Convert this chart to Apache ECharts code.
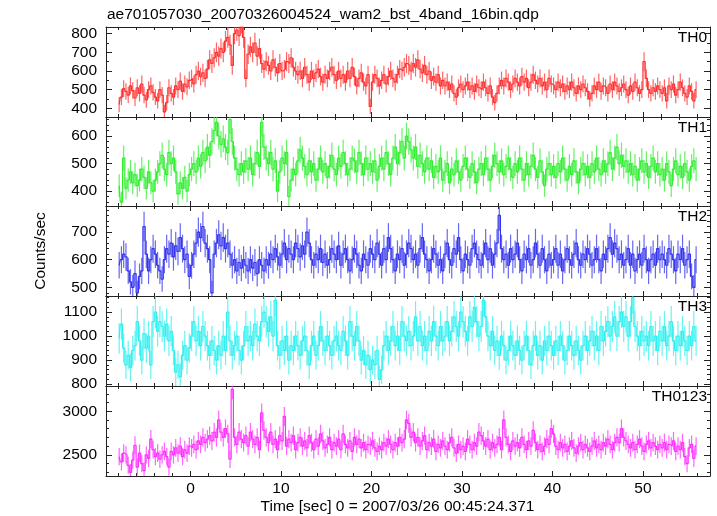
<!DOCTYPE html>
<html><head><meta charset="utf-8">
<script src="https://cdn.jsdelivr.net/npm/echarts@6/dist/echarts.min.js"></script>
<style>html,body{margin:0;padding:0;background:#fff}#c{width:717px;height:516px}</style>
</head><body><div id="c"></div>
<script>
// ---- data (16 bins per row = 4 s per row, 0.25 s bins starting at -8 s) ----
const binStart = -8;
const binWidth = 0.25;

const th0 = [
420,460,505,490,470,520,495,455,510,480,530,470,445,500,520,485,
460,440,500,470,380,430,510,480,460,520,500,545,490,530,515,550,
560,530,580,600,570,590,560,610,660,640,670,700,680,720,700,760,
780,740,630,800,820,790,860,780,560,690,730,700,750,680,720,640,
610,650,630,600,660,620,590,640,600,610,650,640,670,620,600,580,
600,560,620,580,540,600,560,590,610,570,540,580,560,600,620,580,
550,600,560,580,540,600,560,620,570,520,560,590,540,520,580,410,
540,580,560,520,550,580,530,570,600,560,540,580,610,600,620,640,
630,600,640,620,660,610,590,630,580,600,550,570,540,580,520,550,
520,540,500,530,480,460,510,530,500,520,540,500,520,490,530,510,
500,540,510,480,520,460,430,480,520,550,520,560,540,500,530,560,
540,520,570,540,560,510,540,580,550,530,560,520,540,500,560,530,
520,500,540,510,530,490,520,500,540,510,480,520,500,530,510,490,
450,480,520,500,540,490,520,510,480,530,500,540,520,490,510,530,
500,470,520,490,540,510,480,500,650,560,500,480,510,490,520,500,
480,510,440,520,500,530,470,500,540,510,480,460,520,490,440,500];

const th1 = [
420,360,520,410,440,470,430,460,420,440,480,450,410,470,430,400,
440,470,500,530,480,460,540,500,520,470,390,430,410,450,400,460,
480,500,470,520,490,540,510,560,530,580,620,650,600,570,590,560,
540,660,580,520,480,460,500,470,510,480,520,460,500,540,490,650,
560,520,500,540,480,510,400,470,520,500,540,380,440,480,460,510,
550,520,490,460,510,470,500,440,480,520,470,500,450,490,530,480,
460,520,490,540,500,460,480,520,510,470,540,500,460,520,480,500,
470,510,440,490,520,480,540,500,460,520,560,500,540,580,520,600,
580,550,520,560,490,530,500,470,520,480,510,450,490,470,520,440,
470,500,430,480,460,510,470,440,490,520,480,450,500,470,430,480,
500,460,520,480,440,490,530,500,470,510,460,490,520,480,450,500,
470,520,480,440,500,460,490,530,480,450,510,470,420,480,500,460,
490,450,500,470,520,480,440,490,460,510,470,430,480,500,460,490,
450,500,470,520,480,460,510,470,500,540,480,520,560,500,530,490,
510,470,500,460,490,440,480,510,470,500,450,490,520,470,500,460,
480,440,500,470,420,480,510,460,490,450,500,470,440,490,510,480];

const th2 = [
580,600,620,610,560,520,500,550,480,540,560,720,620,560,600,640,
620,580,560,530,600,640,620,660,610,650,630,680,640,600,620,540,
580,620,660,700,680,720,660,640,600,480,620,660,690,650,680,640,
660,620,580,600,560,590,570,600,580,560,600,570,590,550,600,580,
560,600,580,620,600,640,610,580,620,660,600,640,620,600,660,640,
610,650,620,700,660,600,580,620,600,640,590,620,580,600,640,620,
600,650,580,620,640,600,560,600,640,620,580,560,620,600,580,640,
620,600,660,620,580,640,600,680,640,600,560,620,600,640,580,620,
660,640,600,620,580,640,680,620,600,560,600,640,620,580,600,560,
620,660,600,580,640,620,680,600,560,620,600,580,640,660,620,600,
580,620,660,600,640,580,620,660,760,640,600,620,580,640,600,620,
660,600,560,620,600,640,580,600,660,620,580,640,600,560,620,580,
600,640,580,620,560,600,640,600,580,620,660,600,580,620,600,640,
620,580,600,640,600,560,620,600,640,680,620,660,640,600,620,580,
600,640,580,620,560,600,620,580,640,600,560,600,620,580,640,600,
620,600,580,640,620,600,560,620,600,640,580,600,620,540,500,600];

const th3 = [
990,1050,950,880,920,870,940,960,1060,980,900,1010,950,1000,880,1060,
1100,1020,1060,1040,1000,1050,980,1020,940,850,880,830,920,960,900,950,
1000,1060,980,1020,960,1040,1000,960,920,980,940,900,960,920,1000,940,
1100,980,920,960,1000,940,900,960,1040,980,1000,960,1050,1000,980,1060,
1100,1060,1020,1080,1000,1150,960,920,980,940,1000,900,960,940,1000,960,
920,980,1000,940,880,960,1000,920,960,1040,980,940,1000,960,920,980,
1000,960,940,1020,980,920,1060,1000,960,1040,980,900,940,880,920,860,
900,880,940,820,860,960,1000,940,980,1040,960,1000,940,1060,1000,980,
1020,960,1000,1080,980,1040,960,1000,940,1020,980,1060,1000,960,1040,980,
1000,1060,980,1020,1080,1040,1000,1100,1060,1020,980,1080,1040,1120,1060,1000,
1040,1150,1080,1000,960,1020,940,980,920,1000,960,900,940,1000,960,920,
980,940,900,960,1000,940,880,960,1000,920,960,900,980,940,1000,960,
920,980,940,1000,960,900,940,1000,960,920,980,940,900,960,1000,940,
980,1020,960,1000,940,1040,980,1020,1060,1000,1040,1080,1000,1060,1100,1040,
1080,1000,1060,1160,1040,1000,960,1020,980,1000,960,1040,980,1000,940,1020,
980,1040,960,1000,1060,980,940,1000,960,1020,980,940,1000,960,1040,980];

const th0123 = [
2480,2420,2520,2500,2380,2300,2440,2610,2360,2520,2400,2320,2500,2460,2680,2560,
2480,2520,2450,2500,2540,2480,2360,2540,2500,2580,2520,2600,2480,2560,2520,2600,
2580,2620,2560,2660,2620,2700,2640,2680,2720,2660,2760,2700,2900,2760,2700,2800,
2740,2450,3250,2700,2620,2760,2680,2640,2720,2600,2760,2680,2620,2700,2560,2980,
2780,2700,2640,2760,2620,2680,2560,2720,2660,2940,2600,2680,2640,2720,2560,2640,
2700,2600,2660,2580,2720,2640,2560,2680,2600,2740,2660,2580,2620,2700,2560,2640,
2600,2680,2560,2740,2620,2580,2660,2540,2700,2620,2680,2580,2640,2560,2620,2600,
2660,2580,2540,2600,2560,2640,2600,2680,2620,2560,2640,2600,2700,2640,2680,2900,
2860,2700,2760,2640,2700,2600,2660,2720,2560,2640,2600,2680,2540,2620,2580,2660,
2600,2560,2640,2700,2580,2520,2620,2560,2600,2540,2680,2620,2560,2640,2600,2760,
2720,2660,2600,2680,2560,2640,2580,2620,2700,2560,2900,2700,2620,2540,2660,2600,
2640,2580,2700,2620,2560,2660,2600,2780,2640,2560,2620,2540,2600,2680,2620,2800,
2740,2600,2560,2640,2580,2620,2540,2600,2660,2580,2520,2600,2640,2560,2620,2580,
2540,2600,2660,2580,2620,2560,2640,2600,2680,2620,2560,2640,2700,2640,2800,2700,
2660,2620,2580,2640,2560,2620,2680,2600,2540,2620,2660,2580,2640,2600,2560,2620,
2580,2640,2560,2620,2600,2660,2540,2600,2560,2640,2480,2400,2580,2620,2460,2600];

const panelNames = ['TH0', 'TH1', 'TH2', 'TH3', 'TH0123'];
const panelSeries = [th0, th1, th2, th3, th0123];
const panelColors = ['#ff3030', '#30ee30', '#3434ee', '#30f0f0', '#ff30ff'];

const xRange = [-9.33, 57.41];
const xMajorTicks = [0, 10, 20, 30, 40, 50];
const xMinorTicks = [-8,-6,-4,-2,2,4,6,8,12,14,16,18,22,24,26,28,32,34,36,38,42,44,46,48,52,54,56];

const yRanges = [[353, 836], [346, 669], [469, 794], [792, 1167], [2258, 3289]];
const yMajorTicks = [
  [400, 500, 600, 700, 800],
  [400, 500, 600],
  [500, 600, 700],
  [800, 900, 1000, 1100],
  [2500, 3000]
];
const yMinorTicks = [
  [450, 550, 650, 750],
  [360,380,420,440,460,480,520,540,560,580,620,640,660],
  [480,520,540,560,580,620,640,660,680,720,740,760,780],
  [820,840,860,880,920,940,960,980,1020,1040,1060,1080,1120,1140,1160],
  [2300, 2400, 2600, 2700, 2800, 2900, 3100, 3200]
];

const titleText = 'ae701057030_20070326004524_wam2_bst_4band_16bin.qdp';
const xTitle = 'Time [sec] 0 = 2007/03/26 00:45:24.371';
const yTitle = 'Counts/sec';

// ---- layout ----
const FONT = '"Liberation Sans", Arial, Helvetica, sans-serif';
const FS = 15.5;
const AX = '#222';
const gridTops = [27, 117, 206, 296, 386];
const gridHeights = [90, 89, 90, 90, 90];
const gridLeft = 106, gridWidth = 604;
const plain = v => String(v);

const grids = [], xAxes = [], yAxes = [], series = [], graphics = [];

panelSeries.forEach((vals, i) => {
  grids.push({left: gridLeft, width: gridWidth, top: gridTops[i], height: gridHeights[i], containLabel: false});
  const xb = {type: 'value', gridIndex: i, min: xRange[0], max: xRange[1], splitLine: {show: false}, axisLabel: {show: false}};
  const lineOn = {show: true, onZero: false, lineStyle: {color: AX, width: 1}};
  const lineOff = {show: false, onZero: false};
  const majT = {show: true, inside: true, length: 5, customValues: xMajorTicks, lineStyle: {color: AX, width: 1}};
  const minT = {show: true, inside: true, length: 3, customValues: xMinorTicks, lineStyle: {color: AX, width: 1}};
  xAxes.push(Object.assign({}, xb, {position: 'bottom', axisLine: lineOn, axisTick: majT,
    axisLabel: i === 4 ? {show: true, customValues: xMajorTicks, formatter: plain, fontSize: FS, color: '#000', fontFamily: FONT, margin: 5} : {show: false}}));
  xAxes.push(Object.assign({}, xb, {position: 'top', axisLine: lineOn, axisTick: majT}));
  xAxes.push(Object.assign({}, xb, {position: 'bottom', axisLine: lineOff, axisTick: minT}));
  xAxes.push(Object.assign({}, xb, {position: 'top', axisLine: lineOff, axisTick: minT}));

  const yb = {type: 'value', gridIndex: i, min: yRanges[i][0], max: yRanges[i][1], splitLine: {show: false}, axisLabel: {show: false}};
  const yMajT = {show: true, inside: true, length: 6, customValues: yMajorTicks[i], lineStyle: {color: AX, width: 1}};
  const yMinT = {show: true, inside: true, length: 3, customValues: yMinorTicks[i], lineStyle: {color: AX, width: 1}};
  yAxes.push(Object.assign({}, yb, {position: 'left', axisLine: lineOn, axisTick: yMajT,
    axisLabel: {show: true, customValues: yMajorTicks[i], formatter: plain, fontSize: FS, color: '#000', fontFamily: FONT, margin: 9}}));
  yAxes.push(Object.assign({}, yb, {position: 'right', axisLine: lineOn, axisTick: yMajT}));
  yAxes.push(Object.assign({}, yb, {position: 'left', axisLine: lineOff, axisTick: yMinT}));
  yAxes.push(Object.assign({}, yb, {position: 'right', axisLine: lineOff, axisTick: yMinT}));

  const pts = vals.map((v, k) => [binStart + binWidth * (k + 0.5), v]);
  const errPts = vals.map((v, k) => [binStart + binWidth * (k + 0.5), v, Math.sqrt(v / binWidth)]);
  const col = panelColors[i];
  series.push({
    type: 'custom', xAxisIndex: i * 4, yAxisIndex: i * 4, clip: true, silent: true,
    data: errPts,
    renderItem: function (params, api) {
      const t = api.value(0), v = api.value(1), e = api.value(2);
      const a = api.coord([t, v - e]), b = api.coord([t, v + e]);
      return {type: 'line', shape: {x1: a[0], y1: a[1], x2: b[0], y2: b[1]},
        style: {stroke: col, lineWidth: 1.2, opacity: 0.75}};
    }
  });
  series.push({
    type: 'line', xAxisIndex: i * 4, yAxisIndex: i * 4, step: 'middle', data: pts,
    showSymbol: false, symbol: 'none', clip: true, silent: true,
    lineStyle: {color: col, width: 1.2}
  });

  graphics.push({type: 'text', right: 717 - 707, top: gridTops[i] + 3,
    style: {text: panelNames[i], fontSize: FS, fontFamily: FONT, fill: '#000'}});
});

graphics.push({type: 'text', left: 107, top: 7,
  style: {text: titleText, fontSize: FS, fontFamily: FONT, fill: '#000'}});
graphics.push({type: 'text', x: 397.5, y: 507,
  style: {text: xTitle, fontSize: FS, fontFamily: FONT, fill: '#000', textAlign: 'center', textVerticalAlign: 'middle'}});
graphics.push({type: 'text', x: 41, y: 251, rotation: Math.PI / 2,
  style: {text: yTitle, fontSize: FS, fontFamily: FONT, fill: '#000', textAlign: 'center', textVerticalAlign: 'middle'}});

const chart = echarts.init(document.getElementById('c'), null, {renderer: 'canvas'});
chart.setOption({
  animation: false,
  backgroundColor: '#fff',
  grid: grids, xAxis: xAxes, yAxis: yAxes, series: series, graphic: graphics
});
</script>
</body></html>
